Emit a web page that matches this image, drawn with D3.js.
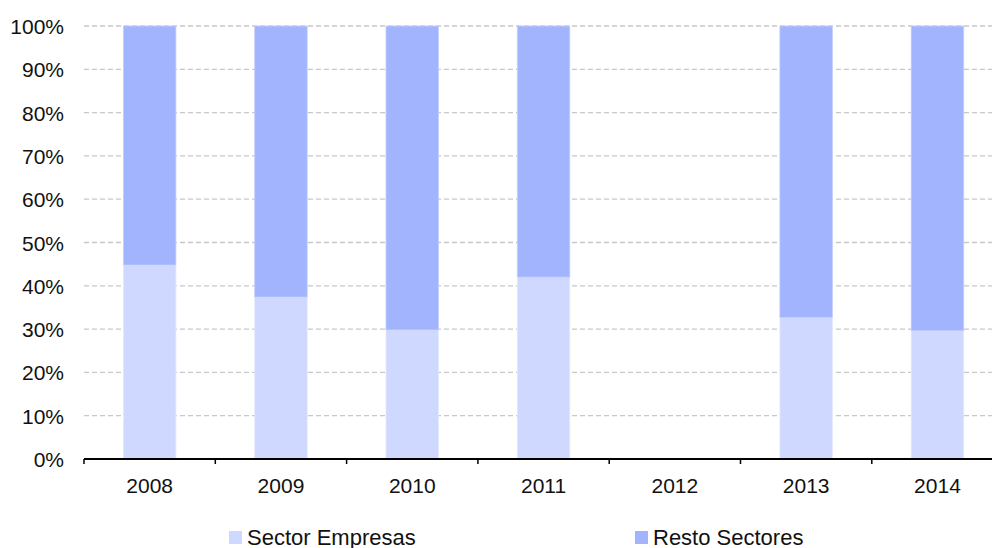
<!DOCTYPE html>
<html lang="es">
<head>
  <meta charset="UTF-8">
  <title>Sector Empresas vs Resto Sectores</title>
  <script src="https://d3js.org/d3.v7.min.js"></script>
  <style>
    body { margin: 0; padding: 0; background: #fff; overflow: hidden; }
    svg text { font-family: "Liberation Sans", Arial, sans-serif; fill: #111; }
  </style>
</head>
<body>
  <div id="vis"></div>
  <script>
    const years = ["2008", "2009", "2010", "2011", "2012", "2013", "2014"];
    // share of Sector Empresas (%); 2012 has no data
    const empresas = [44.8, 37.4, 29.8, 42.0, null, 32.7, 29.6];
    const resto = [55.2, 62.6, 70.2, 58.0, null, 67.3, 70.4];
    const yTicks = [0, 10, 20, 30, 40, 50, 60, 70, 80, 90, 100];
    const seriesNames = ["Sector Empresas", "Resto Sectores"];
    const colors = ["#cfd8fe", "#a3b4fe"];

    const width = 992, height = 548;
    const plotLeft = 84, plotTop = 26, plotBottom = 459;
    const step = 131.3; // plot area runs past the right edge of the picture

    const svg = d3.select("#vis").append("svg")
      .attr("width", width)
      .attr("height", height);

    const x = d3.scaleBand()
      .domain(years)
      .range([plotLeft, plotLeft + step * years.length])
      .paddingInner(0.6)
      .paddingOuter(0.3);

    const y = d3.scaleLinear()
      .domain([0, 100])
      .range([plotBottom, plotTop]);

    // gridlines
    svg.append("g")
      .selectAll("line")
      .data(yTicks.filter(d => d > 0))
      .enter().append("line")
      .attr("x1", plotLeft)
      .attr("x2", width)
      .attr("y1", d => y(d))
      .attr("y2", d => y(d))
      .attr("stroke", "#c8c8c8")
      .attr("stroke-width", 1.3)
      .attr("stroke-dasharray", "5,3");

    // stacked bars
    const rows = years.map((yr, i) => ({ year: yr, a: empresas[i], b: resto[i] }))
      .filter(d => d.a != null);

    const bars = svg.append("g");
    bars.selectAll("rect.emp")
      .data(rows)
      .enter().append("rect")
      .attr("class", "emp")
      .attr("x", d => x(d.year))
      .attr("width", x.bandwidth())
      .attr("y", d => y(d.a))
      .attr("height", d => y(0) - y(d.a))
      .attr("fill", colors[0])
      .attr("stroke", "#e4e9ff")
      .attr("stroke-width", 0.8);

    bars.selectAll("rect.resto")
      .data(rows)
      .enter().append("rect")
      .attr("class", "resto")
      .attr("x", d => x(d.year))
      .attr("width", x.bandwidth())
      .attr("y", d => y(d.a + d.b))
      .attr("height", d => y(d.a) - y(d.a + d.b))
      .attr("fill", colors[1])
      .attr("stroke", "#c3cfff")
      .attr("stroke-width", 0.8);

    // y axis labels
    svg.append("g")
      .selectAll("text")
      .data(yTicks)
      .enter().append("text")
      .attr("x", 64)
      .attr("y", d => y(d) + 8)
      .attr("text-anchor", "end")
      .style("font-size", "21px")
      .text(d => d + "%");

    // x axis
    const xAxis = d3.axisBottom(x).tickSize(0).tickPadding(0);
    const gx = svg.append("g")
      .attr("transform", `translate(0,${y(0)})`)
      .call(xAxis);
    gx.select(".domain").remove();
    gx.selectAll("text")
      .attr("dy", null)
      .attr("y", 34)
      .style("font-size", "21px")
      .style("font-family", "'Liberation Sans', Arial, sans-serif")
      .attr("fill", "#111");

    gx.append("line")
      .attr("x1", plotLeft)
      .attr("x2", width)
      .attr("stroke", "#000")
      .attr("stroke-width", 2);

    gx.selectAll("line.tk")
      .data(d3.range(years.length + 1))
      .enter().append("line")
      .attr("class", "tk")
      .attr("x1", i => plotLeft + i * step)
      .attr("x2", i => plotLeft + i * step)
      .attr("y1", 0)
      .attr("y2", 5)
      .attr("stroke", "#000")
      .attr("stroke-width", 1.5);

    // legend
    const legendX = [229, 635];
    const legend = svg.append("g");
    seriesNames.forEach((name, i) => {
      legend.append("rect")
        .attr("x", legendX[i])
        .attr("y", 531)
        .attr("width", 13)
        .attr("height", 13)
        .attr("fill", colors[i]);
      legend.append("text")
        .attr("x", legendX[i] + 18)
        .attr("y", 545)
        .style("font-size", "22px")
        .text(name);
    });
  </script>
</body>
</html>
